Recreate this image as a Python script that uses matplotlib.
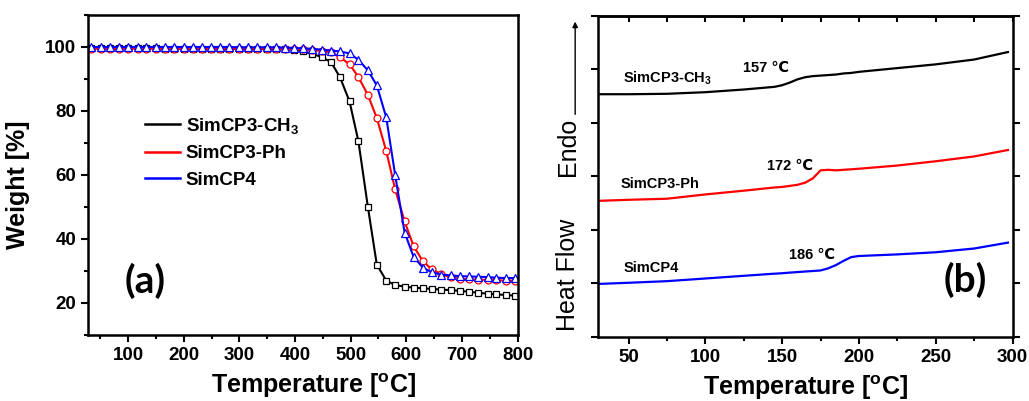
import matplotlib
matplotlib.use('Agg')
import matplotlib.pyplot as plt
from matplotlib.lines import Line2D
from matplotlib.ticker import MultipleLocator, NullFormatter

plt.rcParams['font.family'] = ['Liberation Sans', 'DejaVu Sans']
plt.rcParams['font.weight'] = 'bold'
plt.rcParams['axes.labelweight'] = 'bold'
plt.rcParams['mathtext.fontset'] = 'custom'
plt.rcParams['mathtext.rm'] = 'Liberation Sans:bold'
plt.rcParams['mathtext.bf'] = 'Liberation Sans:bold'
plt.rcParams['mathtext.default'] = 'rm'

# TGA data (a)
tga_temp = [34, 51, 67, 84, 100, 117, 133, 150, 166, 183, 200, 216, 233, 249, 266, 282,
            299, 315, 332, 349, 365, 382, 398, 415, 431, 448, 465, 481, 498, 514, 531, 547,
            564, 580, 597, 613, 630, 646, 663, 680, 696, 713, 729, 746, 762, 779, 796]
tga_ch3 = [99.6, 99.6, 99.6, 99.6, 99.6, 99.6, 99.6, 99.6, 99.5, 99.5, 99.5, 99.5, 99.5, 99.5,
           99.4, 99.4, 99.4, 99.4, 99.4, 99.3, 99.3, 99.3, 99.2, 98.6, 97.8, 96.9, 95.2, 90.5,
           83.0, 70.5, 50.0, 32.0, 27.0, 25.6, 25.1, 24.8, 24.6, 24.4, 24.2, 24.0, 23.8, 23.5,
           23.2, 22.9, 22.7, 22.5, 22.3]
tga_ph = [99.5, 99.5, 99.5, 99.5, 99.5, 99.5, 99.5, 99.5, 99.5, 99.5, 99.5, 99.5, 99.5, 99.5,
          99.5, 99.5, 99.5, 99.5, 99.5, 99.5, 99.5, 99.4, 99.4, 99.3, 99.0, 98.8, 98.3, 96.8,
          94.6, 90.6, 85.0, 77.8, 67.5, 55.5, 45.5, 37.8, 33.0, 30.5, 29.0, 28.0, 27.6, 27.4,
          27.3, 27.2, 27.1, 27.0, 27.0]
tga_cp4 = [100.0, 100.0, 100.0, 100.0, 100.0, 100.0, 100.0, 100.0, 100.0, 100.0, 100.0, 100.0,
           100.0, 100.0, 100.0, 100.0, 99.9, 99.9, 99.9, 99.9, 99.9, 99.8, 99.7, 99.6, 99.4,
           99.2, 98.9, 98.6, 98.0, 96.0, 92.7, 88.0, 78.0, 60.0, 42.0, 34.5, 31.0, 29.6, 28.9,
           28.6, 28.4, 28.3, 28.2, 28.1, 27.9, 27.8, 27.8]

# DSC data (b)
dsc_temp = [30, 50, 75, 100, 125, 145, 150, 155, 160, 165, 170, 175, 180, 185, 190, 195,
            200, 225, 250, 275, 297]
dsc_ch3 = [2.266, 2.266, 2.27, 2.285, 2.31, 2.335, 2.35, 2.375, 2.405, 2.425, 2.435, 2.44,
           2.445, 2.45, 2.46, 2.465, 2.475, 2.51, 2.545, 2.59, 2.66]
dsc_ph = [1.27, 1.28, 1.29, 1.33, 1.365, 1.395, 1.40, 1.41, 1.42, 1.44, 1.48, 1.555, 1.56,
          1.555, 1.56, 1.565, 1.57, 1.60, 1.64, 1.685, 1.745]
dsc_cp4 = [0.494, 0.505, 0.52, 0.545, 0.57, 0.59, 0.594, 0.60, 0.605, 0.61, 0.615, 0.62,
           0.64, 0.67, 0.71, 0.745, 0.755, 0.77, 0.79, 0.825, 0.88]

labels = ['SimCP3-CH$_3$', 'SimCP3-Ph', 'SimCP4']
colors = ['black', 'red', 'blue']
tg_labels = ['157 \u2103', '172 \u2103', '186 \u2103']

fig = plt.figure(figsize=(10.29, 4.01), dpi=100)
ax1 = fig.add_axes([0.0855, 0.1646, 0.4175, 0.798])
ax2 = fig.add_axes([0.581, 0.160, 0.403, 0.801])

for ax in (ax1, ax2):
    for s in ax.spines.values():
        s.set_linewidth(1.8)

# ---- panel (a)
ax1.plot(tga_temp, tga_ch3, color='black', lw=1.5, marker='s', ms=5, mfc='white', mec='black', mew=0.9)
ax1.plot(tga_temp, tga_ph, color='red', lw=1.5, marker='o', ms=5, mfc='white', mec='red', mew=0.9)
ax1.plot(tga_temp, tga_cp4, color='blue', lw=1.5, marker='^', ms=6, mfc='white', mec='blue', mew=0.9)
ax1.set_xlim(28, 800)
ax1.set_ylim(10, 110)
ax1.xaxis.set_major_locator(MultipleLocator(100))
ax1.xaxis.set_minor_locator(MultipleLocator(50))
ax1.yaxis.set_major_locator(MultipleLocator(20))
ax1.yaxis.set_minor_locator(MultipleLocator(10))
ax1.tick_params(which='major', direction='out', length=5, width=1.5, labelsize=13.5)
ax1.tick_params(which='minor', direction='out', length=3, width=1.5)
ax1.set_yticks([20, 40, 60, 80, 100])
ax1.set_ylabel('Weight [%]', fontsize=18, fontweight='bold')
ax1.yaxis.set_label_coords(-0.135, 0.47)
ax1.text(0.526, -0.158, 'Temperature [$^\\mathrm{o}$C]', transform=ax1.transAxes,
         ha='center', va='center', fontsize=18)
ax1.text(131, 27, '(a)', fontsize=28, fontweight='bold', family=['Lato', 'DejaVu Sans'],
         ha='center', va='center')
handles = [Line2D([], [], color=c, lw=1.8) for c in colors]
ax1.legend(handles, labels, loc='upper left', bbox_to_anchor=(0.132, 0.685), frameon=False,
           fontsize=13.5, handlelength=1.9, handletextpad=0.3, labelspacing=0.5,
           borderpad=0, borderaxespad=0)

# ---- panel (b)
for y, c in zip([dsc_ch3, dsc_ph, dsc_cp4], colors):
    ax2.plot(dsc_temp, y, color=c, lw=1.6)
ax2.set_xlim(30, 300)
ax2.set_ylim(0, 3)
ax2.xaxis.set_major_locator(MultipleLocator(50))
ax2.xaxis.set_minor_locator(MultipleLocator(25))
ax2.yaxis.set_major_locator(MultipleLocator(0.5))
ax2.yaxis.set_major_formatter(NullFormatter())
ax2.tick_params(axis='x', which='major', direction='out', length=5, width=1.5, labelsize=13.5)
ax2.tick_params(axis='x', which='minor', direction='out', length=3, width=1.5)
ax2.tick_params(axis='y', which='major', direction='out', length=5, width=1.5, right=True)
top = ax2.secondary_xaxis('top')
top.xaxis.set_major_locator(MultipleLocator(50))
top.xaxis.set_minor_locator(MultipleLocator(25))
top.tick_params(which='both', direction='in', length=4, width=1.5, labeltop=False)
top.spines['top'].set_linewidth(1.8)

ax2.text(46.7, 2.375, labels[0], fontsize=10.5, ha='left', va='baseline')
ax2.text(45, 1.39, labels[1], fontsize=10.5, ha='left', va='baseline')
ax2.text(46.7, 0.61, labels[2], fontsize=10.5, ha='left', va='baseline')
ax2.text(124.8, 2.47, tg_labels[0], fontsize=10.5, ha='left', va='baseline')
ax2.text(140.4, 1.556, tg_labels[1], fontsize=10.5, ha='left', va='baseline')
ax2.text(154.3, 0.725, tg_labels[2], fontsize=10.5, ha='left', va='baseline')
ax2.text(269, 0.53, '(b)', fontsize=28, fontweight='bold', family=['Lato', 'DejaVu Sans'],
         ha='center', va='center')

ax2.text(-0.0716, 0.192, 'Heat Flow', transform=ax2.transAxes, rotation=90,
         ha='center', va='center', fontsize=18, fontweight='normal')
ax2.text(-0.0716, 0.591, 'Endo', transform=ax2.transAxes, rotation=90,
         ha='center', va='center', fontsize=18, fontweight='normal')
ax2.annotate('', xy=(-0.0547, 0.99), xytext=(-0.0547, 0.684), xycoords='axes fraction',
             textcoords='axes fraction',
             arrowprops=dict(arrowstyle='-|>', color='black', lw=1.0, mutation_scale=8))
ax2.text(0.5, -0.158, 'Temperature [$^\\mathrm{o}$C]', transform=ax2.transAxes,
         ha='center', va='center', fontsize=18)

fig.savefig('out.png', dpi=100)
